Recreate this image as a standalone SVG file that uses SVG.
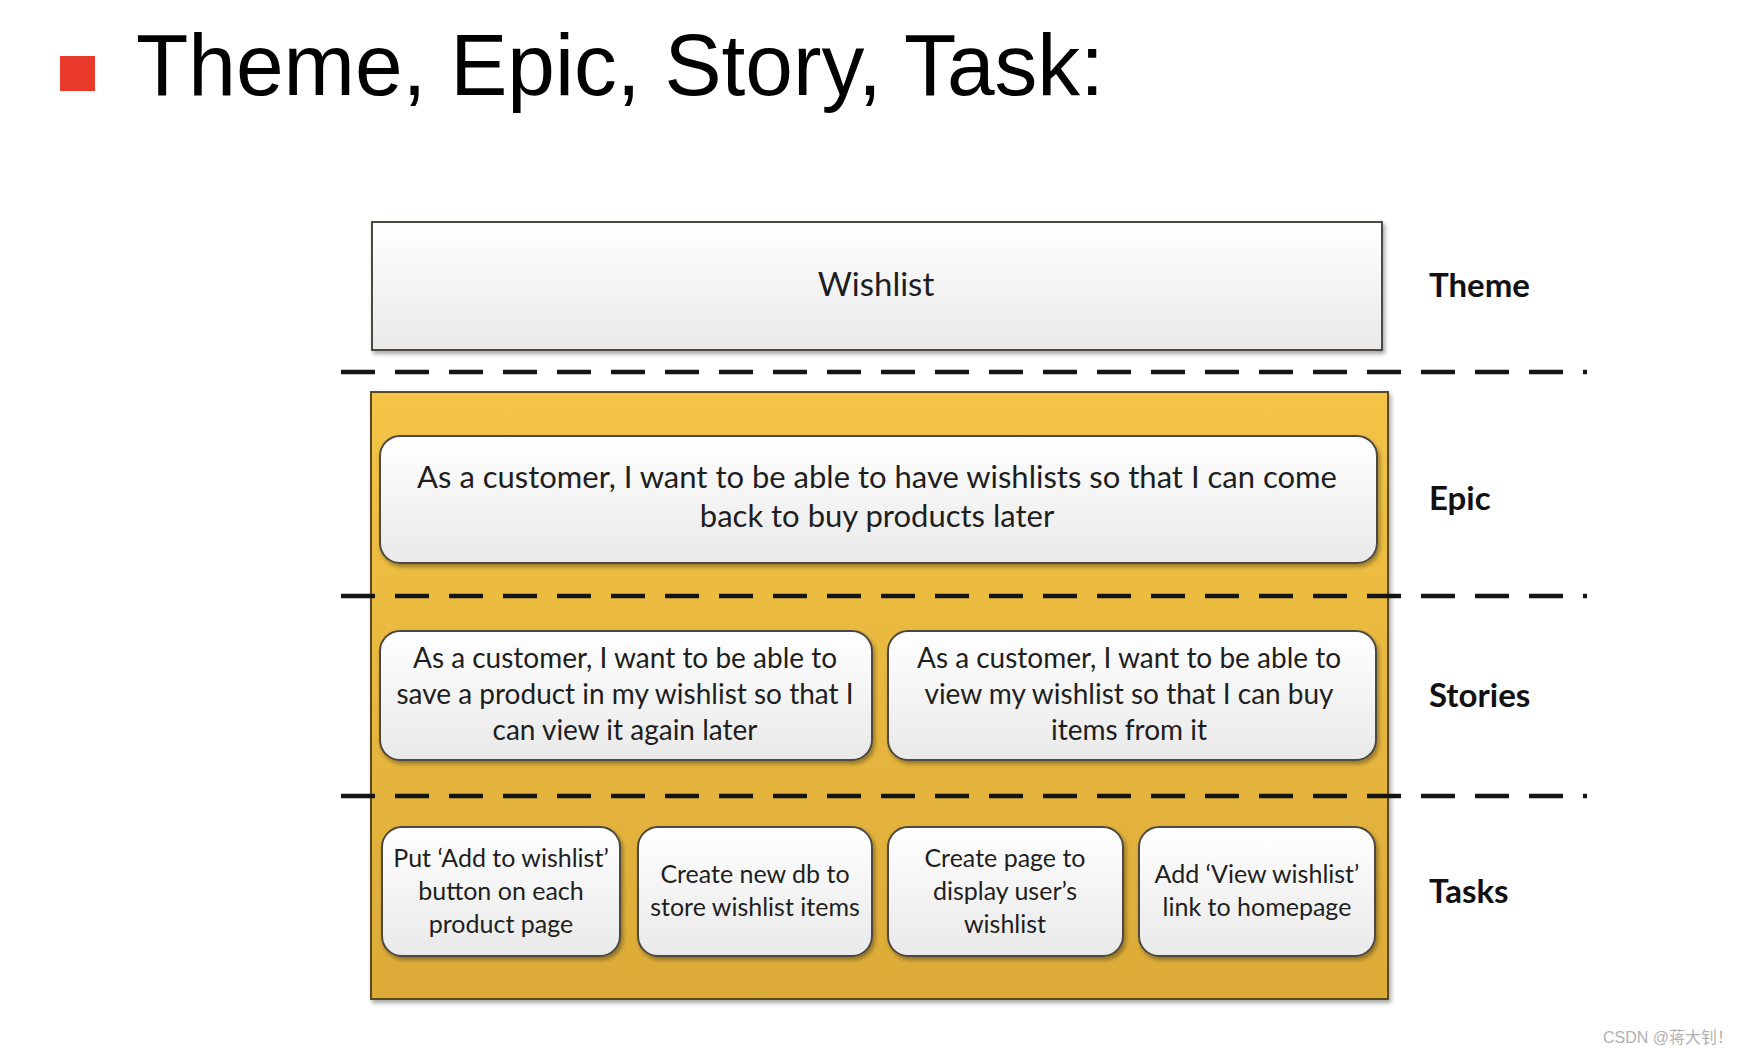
<svg xmlns="http://www.w3.org/2000/svg" width="1748" height="1056" viewBox="0 0 1748 1056">
<defs>
<linearGradient id="boxg" x1="0" y1="0" x2="0" y2="1">
<stop offset="0" stop-color="#ffffff"/>
<stop offset="1" stop-color="#e9e9e9"/>
</linearGradient>
<linearGradient id="yel" x1="0" y1="0" x2="0" y2="1">
<stop offset="0" stop-color="#f3c445"/>
<stop offset="1" stop-color="#dcab38"/>
</linearGradient>
<filter id="sh" x="-5%" y="-10%" width="110%" height="130%">
<feDropShadow dx="2" dy="3" stdDeviation="2" flood-color="#000" flood-opacity="0.35"/>
</filter>
</defs>
<style>
.title{font-family:"Liberation Sans",Arial,sans-serif;font-size:88px;fill:#000}
.box{fill:url(#boxg);stroke:#4d4a42;stroke-width:2}
.t{font-family:Lato,"Open Sans",sans-serif;font-size:28px;fill:#1e1e1e;text-anchor:middle;dominant-baseline:central}
.s{font-size:25px}
.lbl{font-family:Lato,"Open Sans",sans-serif;font-size:33px;font-weight:bold;fill:#111;dominant-baseline:central}
.dash{stroke:#151515;stroke-width:4.5;stroke-dasharray:34 20;fill:none}
.wm{font-family:"Liberation Sans","Noto Sans CJK SC",sans-serif;font-size:16px;fill:#b0b0b0}
</style>
<rect width="1748" height="1056" fill="#ffffff"/>
<rect x="60" y="56" width="35" height="35" fill="#e8392a"/>
<text class="title" x="136" y="95" textLength="968" lengthAdjust="spacingAndGlyphs">Theme, Epic, Story, Task:</text>

<g id="theme">
<rect class="box" x="372" y="222" width="1010" height="128" filter="url(#sh)"/>
<text class="t" x="876" y="283" style="font-size:33px">Wishlist</text>
</g>

<g id="container">
<rect x="371" y="392" width="1017" height="607" fill="url(#yel)" stroke="#5b4a24" stroke-width="2" filter="url(#sh)"/>
</g>

<g id="epic">
<rect class="box" x="380" y="436" width="997" height="127" rx="20" filter="url(#sh)"/>
<text class="t" x="877" y="476" style="font-size:31px">As a customer, I want to be able to have wishlists so that I can come</text>
<text class="t" x="877" y="515" style="font-size:31px">back to buy products later</text>
</g>

<g id="story1">
<rect class="box" x="380" y="631" width="492" height="129" rx="20" filter="url(#sh)"/>
<text class="t" x="625" y="657">As a customer, I want to be able to</text>
<text class="t" x="625" y="693">save a product in my wishlist so that I</text>
<text class="t" x="625" y="729">can view it again later</text>
</g>

<g id="story2">
<rect class="box" x="888" y="631" width="488" height="129" rx="20" filter="url(#sh)"/>
<text class="t" x="1129" y="657">As a customer, I want to be able to</text>
<text class="t" x="1129" y="693">view my wishlist so that I can buy</text>
<text class="t" x="1129" y="729">items from it</text>
</g>

<g id="task1">
<rect class="box" x="382" y="827" width="238" height="129" rx="20" filter="url(#sh)"/>
<text class="t s" x="501" y="857">Put ‘Add to wishlist’</text>
<text class="t s" x="501" y="890">button on each</text>
<text class="t s" x="501" y="923">product page</text>
</g>

<g id="task2">
<rect class="box" x="638" y="827" width="234" height="129" rx="20" filter="url(#sh)"/>
<text class="t s" x="755" y="873">Create new db to</text>
<text class="t s" x="755" y="906">store wishlist items</text>
</g>

<g id="task3">
<rect class="box" x="888" y="827" width="235" height="129" rx="20" filter="url(#sh)"/>
<text class="t s" x="1005" y="857">Create page to</text>
<text class="t s" x="1005" y="890">display user’s</text>
<text class="t s" x="1005" y="923">wishlist</text>
</g>

<g id="task4">
<rect class="box" x="1139" y="827" width="236" height="129" rx="20" filter="url(#sh)"/>
<text class="t s" x="1257" y="873">Add ‘View wishlist’</text>
<text class="t s" x="1257" y="906">link to homepage</text>
</g>

<g id="connectors">
<line class="dash" x1="341" y1="372" x2="1587" y2="372"/>
<line class="dash" x1="341" y1="596" x2="1587" y2="596"/>
<line class="dash" x1="341" y1="796" x2="1587" y2="796"/>
</g>

<g id="labels">
<text class="lbl" x="1429" y="284">Theme</text>
<text class="lbl" x="1429" y="497">Epic</text>
<text class="lbl" x="1429" y="694">Stories</text>
<text class="lbl" x="1429" y="890">Tasks</text>
</g>

<text class="wm" x="1603" y="1043">CSDN @蒋大钊！</text>
</svg>
